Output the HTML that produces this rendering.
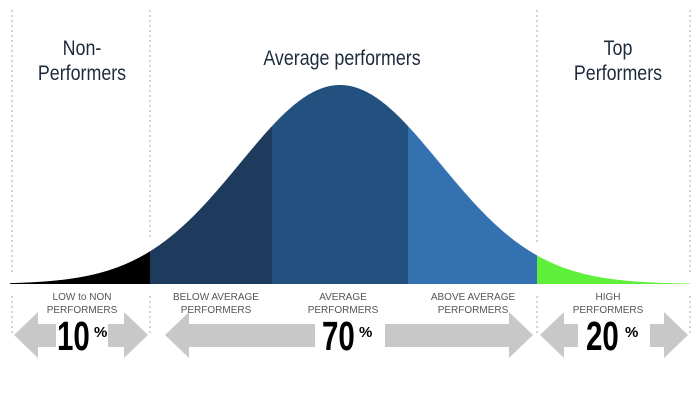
<!DOCTYPE html>
<html><head><meta charset="utf-8"><style>
body{margin:0;width:700px;height:400px;background:#fff;overflow:hidden;font-family:"Liberation Sans",sans-serif}
svg{position:absolute;left:0;top:0}
</style></head><body>
<svg id="s" width="700" height="400" viewBox="0 0 700 400">
<g stroke="#aaa" stroke-width="1" stroke-dasharray="2,3" fill="none">
<line x1="12" y1="10" x2="12" y2="272"/><line x1="150" y1="10" x2="150" y2="240"/>
<line x1="537" y1="10" x2="537" y2="245"/><line x1="690" y1="10" x2="690" y2="272"/>
<line x1="12" y1="296" x2="12" y2="335"/><line x1="150" y1="296" x2="150" y2="335"/>
<line x1="537" y1="296" x2="537" y2="335"/><line x1="690" y1="296" x2="690" y2="335"/>
</g>
<g id="c"></g>
<g fill="#c8c8c8">
<polygon points="14,335 38,312 38,324 56,324 56,347 38,347 38,358"/>
<polygon points="148,335 124,312 124,324 108,324 108,347 124,347 124,358"/>
<polygon points="165,335 189,312 189,324 315,324 315,347 189,347 189,358"/>
<polygon points="533,335 509,312 509,324 385,324 385,347 509,347 509,358"/>
<polygon points="540,335 564,312 564,324 578,324 578,347 564,347 564,358"/>
<polygon points="688,335 664,312 664,324 650,324 650,347 664,347 664,358"/>
</g>
<g fill="#1e2b3c" font-size="21" text-anchor="middle">
<text x="82" y="55" transform="translate(82 0) scale(.85 1) translate(-82 0)">Non-</text>
<text x="82" y="80" transform="translate(82 0) scale(.85 1) translate(-82 0)">Performers</text>
<text x="342" y="65" transform="translate(342 0) scale(.85 1) translate(-342 0)">Average performers</text>
<text x="618" y="55" transform="translate(618 0) scale(.85 1) translate(-618 0)">Top</text>
<text x="618" y="80" transform="translate(618 0) scale(.85 1) translate(-618 0)">Performers</text>
</g>
<g fill="#555" font-size="10" text-anchor="middle">
<text x="82" y="300">LOW to NON</text><text x="82" y="313">PERFORMERS</text>
<text x="216" y="300">BELOW AVERAGE</text><text x="216" y="313">PERFORMERS</text>
<text x="343" y="300">AVERAGE</text><text x="343" y="313">PERFORMERS</text>
<text x="473" y="300">ABOVE AVERAGE</text><text x="473" y="313">PERFORMERS</text>
<text x="608" y="300">HIGH</text><text x="608" y="313">PERFORMERS</text>
</g>
<g fill="#000" font-weight="bold">
<text x="57" y="350" font-size="41" transform="translate(57 0) scale(.72 1) translate(-57 0)">10</text>
<text x="94" y="337" font-size="15">%</text>
<text x="322" y="350" font-size="41" transform="translate(322 0) scale(.72 1) translate(-322 0)">70</text>
<text x="359" y="337" font-size="15">%</text>
<text x="586" y="350" font-size="41" transform="translate(586 0) scale(.72 1) translate(-586 0)">20</text>
<text x="625" y="337" font-size="15">%</text>
</g>
</svg>
<script>
function y(x){return 284-199*Math.exp(-Math.pow(x-340,2)/(2*100*100));}
function seg(a,b,col){var d="M"+a+",284";for(var x=a;x<=b;x+=1)d+=" L"+x+","+y(x).toFixed(2);d+=" L"+b+",284 Z";
var p=document.createElementNS("http://www.w3.org/2000/svg","path");p.setAttribute("d",d);p.setAttribute("fill",col);document.getElementById("c").appendChild(p);}
seg(10,150,"#000");seg(150,272,"#1e3a5c");seg(272,408,"#22507f");seg(408,537,"#3371b0");seg(537,690,"#5ef03a");
</script>
</body></html>
